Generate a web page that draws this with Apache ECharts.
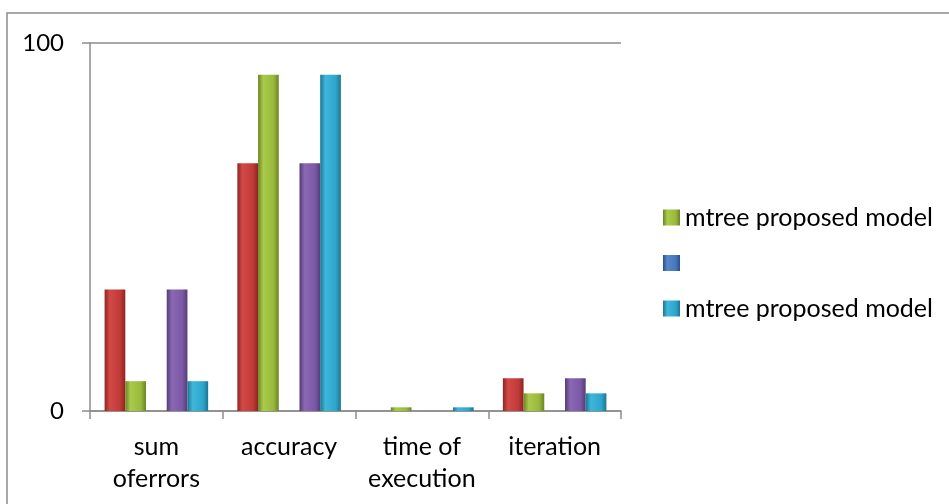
<!DOCTYPE html>
<html>
<head>
<meta charset="utf-8">
<script src="https://cdn.jsdelivr.net/npm/echarts@6/dist/echarts.min.js"></script>
<style>
	html, body { margin: 0; padding: 0; background: #fff; }
	#chart { width: 949px; height: 504px; }
</style>
</head>
<body>
<div id="chart"></div>
<script>
	var categories = ['sum\noferrors', 'accuracy', 'time of\nexecution', 'iteration'];
	var seriesNames = ['s1', 's2', 's3', 's4', 's5'];
	var legendLabels = { s2: 'mtree proposed model', s3: '', s5: 'mtree proposed model' };
	var redData = [33, 67.3, 0, 8.9];
	var greenData = [8.1, 91.4, 1, 4.8];
	var blueData = [0, 0, 0, 0];
	var purpleData = [33, 67.3, 0, 8.9];
	var cyanData = [8.1, 91.4, 1, 4.8];
	var yTicks = [0, 100];

	var font = 'Lato, "Open Sans", sans-serif';

	// bevel-ish look: dark edges, lighter middle
	function bevel(dark, mid, light) {
		return new echarts.graphic.LinearGradient(0, 0, 1, 0, [
			{ offset: 0, color: dark },
			{ offset: 0.25, color: light },
			{ offset: 0.75, color: mid },
			{ offset: 1, color: dark }
		]);
	}

	var colors = [
		bevel('#8e2422', '#c03a38', '#d24a47'),
		bevel('#6c8426', '#98b93c', '#a9ca4a'),
		bevel('#2c4f86', '#4677be', '#5788cc'),
		bevel('#553c77', '#7b59a6', '#8a68b4'),
		bevel('#1d7592', '#2ea6cc', '#3db7da')
	];
	var datas = [redData, greenData, blueData, purpleData, cyanData];

	var series = [];
	for (var i = 0; i < datas.length; i++) {
		series.push({
			name: seriesNames[i],
			type: 'bar',
			data: datas[i],
			barGap: '0%',
			barCategoryGap: '22%',
			itemStyle: { color: colors[i] }
		});
	}

	var myChart = echarts.init(document.getElementById('chart'));
	var option = {
		animation: false,
		graphic: [{
			type: 'rect',
			shape: { x: 7, y: 13, width: 960, height: 520 },
			style: { fill: 'none', stroke: '#8c8c8c', lineWidth: 1.5 },
			silent: true
		}],
		grid: { left: 90, right: 328, top: 43, bottom: 93 },
		legend: {
			orient: 'vertical',
			left: 658,
			top: 200,
			icon: 'rect',
			itemWidth: 17,
			itemHeight: 16,
			itemGap: 25,
			data: ['s2', 's3', 's5'],
			formatter: function (name) { return legendLabels[name]; },
			textStyle: { fontFamily: font, fontSize: 25, color: '#000' }
		},
		xAxis: {
			type: 'category',
			data: categories,
			axisLine: { lineStyle: { color: '#8c8c8c', width: 1.5 } },
			axisTick: { show: true, length: 8, lineStyle: { color: '#8c8c8c', width: 1.5 } },
			axisLabel: { fontFamily: font, fontSize: 25, color: '#000', lineHeight: 32, margin: 20, interval: 0 }
		},
		yAxis: {
			type: 'value',
			min: yTicks[0],
			max: yTicks[1],
			interval: 100,
			axisLine: { show: true, lineStyle: { color: '#8c8c8c', width: 1.5 } },
			axisTick: { show: true, length: 8, lineStyle: { color: '#8c8c8c', width: 1.5 } },
			splitLine: { show: true, lineStyle: { color: '#8c8c8c', width: 1.5 } },
			axisLabel: { fontFamily: font, fontSize: 24, color: '#000', margin: 26 }
		},
		series: series
	};
	myChart.setOption(option);
</script>
</body>
</html>
